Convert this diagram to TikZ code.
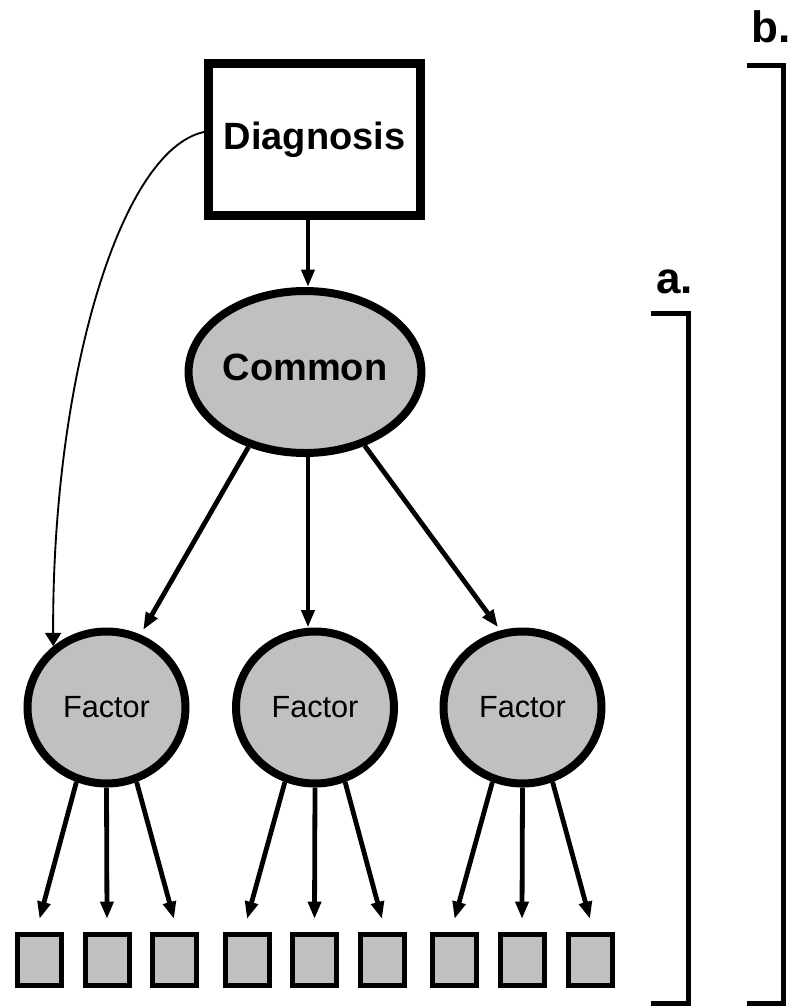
\documentclass[tikz,border=0pt]{standalone}
\usepackage{fontspec}
\setmainfont{Liberation Sans}
\usetikzlibrary{arrows.meta,calc,shapes.geometric}
\definecolor{nodegray}{RGB}{192,192,192}
\begin{document}
\begin{tikzpicture}[x=0.75pt,y=-0.75pt,
  diagbox/.style={draw, line width=6.75pt, minimum width=159pt, minimum height=114pt, inner sep=0pt, font=\fontsize{28.5}{34}\selectfont\bfseries},
  commonnode/.style={ellipse, draw, fill=nodegray, line width=6pt, minimum width=174pt, minimum height=121.5pt, inner sep=0pt, text depth=7.5pt, font=\fontsize{28.5}{34}\selectfont\bfseries},
  factornode/.style={ellipse, draw, fill=nodegray, line width=6pt, minimum width=118.5pt, minimum height=114pt, inner sep=0pt, font=\fontsize{23}{28}\selectfont},
  itembox/.style={draw, fill=nodegray, line width=3.75pt, minimum width=33pt, minimum height=38.25pt, inner sep=0pt},
  arr/.style={line width=3.6pt, -{Triangle[length=13pt,width=9.5pt]}},
  thinarr/.style={line width=1.4pt, -{Triangle[length=10pt,width=12pt]}},
  bracket/.style={line width=3.75pt, line cap=butt, line join=miter},
  brlabel/.style={font=\fontsize{33}{40}\selectfont\bfseries, anchor=base, inner sep=0pt}
]
\useasboundingbox (0,0) rectangle (793,1008);

\node[diagbox] (diag) at (314.5,139.5) {Diagnosis};
\node[commonnode] (common) at (305,372) {Common};
\node[factornode] (f1) at (106.5,707.5) {Factor};
\node[factornode] (f2) at (315,707.5) {Factor};
\node[factornode] (f3) at (522.5,707.5) {Factor};
\foreach \i/\x in {1/39.5,2/107,3/174,4/247,5/314.5,6/382,7/454.5,8/522,9/590}
  \node[itembox] (s\i) at (\x,960) {};

\draw[arr] (common.88 |- diag.south) -- (common.88);
\draw[arr, shorten >=4pt] (common.233) -- (f1.65);
\draw[arr] (common.272) -- (common.272 |- f2.north);
\draw[arr, shorten >=3pt] (common.309) -- (f3.106);

\draw[thinarr] ($(diag.west)+(0,-7.5)$) .. controls (120,150) and (52,380) .. (f1.131);

\foreach \f/\a/\b/\c in {f1/s1/s2/s3, f2/s4/s5/s6, f3/s7/s8/s9} {
  \draw[arr] (\f.248) -- ($(\a.north)+(0,-13)$);
  \draw[arr] (\f.270) -- ($(\b.north)+(0,-13)$);
  \draw[arr] (\f.292) -- ($(\c.north)+(0,-13)$);
}

\draw[bracket] (747,65) -- (783.3,65) -- (783.3,1003) -- (747,1003);
\draw[bracket] (651,313) -- (688.5,313) -- (688.5,1003) -- (651,1003);
\node[brlabel] (blab) at (771.5,42) {b.};
\node[brlabel] (alab) at (674.5,293) {a.};
\end{tikzpicture}
\end{document}
